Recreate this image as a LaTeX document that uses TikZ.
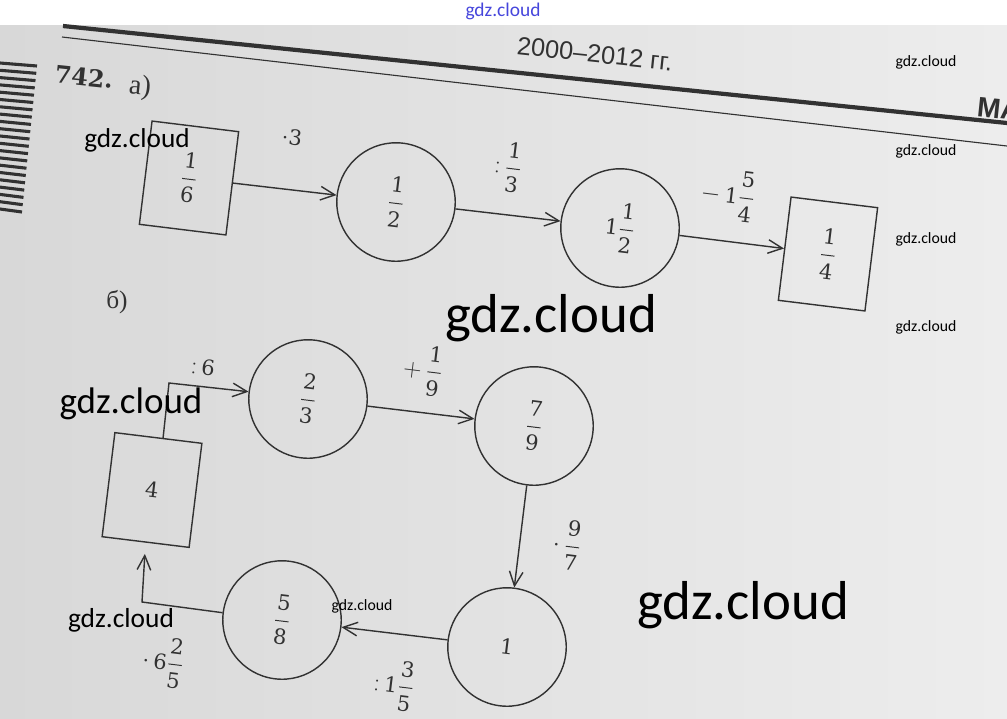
\RequirePackage{fix-cm}
\documentclass[tikz,border=0pt]{standalone}
\usepackage{amsmath}
\usepackage[no-math]{fontspec}
\newfontfamily\rusfont{Liberation Serif}
\newfontfamily\rushead{Liberation Sans}
\newfontfamily\wmfont{Carlito}
\newfontfamily\digfont{DejaVu Serif}
\newcommand\dg[1]{\text{\fontsize{15}{18}\selectfont\digfont #1}}
\newcommand\fr[2]{\dfrac{\dg{#1}}{\dg{#2}}}
\usetikzlibrary{arrows.meta}
\definecolor{ink}{RGB}{50,50,50}
\definecolor{paperL}{RGB}{216,216,216}
\definecolor{paperR}{RGB}{237,237,237}
\definecolor{wmblue}{RGB}{70,70,220}
\begin{document}
\begin{tikzpicture}[x=0.025cm,y=-0.025cm,line width=1pt,
  >={Straight Barb[length=3.6mm,width=3.4mm]},
  numbox/.style={draw=ink,rotate=-7,minimum width=2.18cm,minimum height=2.6cm,inner sep=0pt,text=ink,font=\fontsize{18}{22}\selectfont},
  numcirc/.style={draw=ink,circle,rotate=-7,minimum size=2.96cm,inner sep=0pt,text=ink,font=\fontsize{18}{22}\selectfont},
  oplabel/.style={rotate=-7,inner sep=0pt,text=ink,font=\fontsize{18}{22}\selectfont},
  flow/.style={draw=ink,->},
  wm/.style={inner sep=0pt,text=black}]
\useasboundingbox (0,0) rectangle (1007,718);
\clip (0,0) rectangle (1007,718);
\fill[white] (0,0) rectangle (1007,718);
\shade[left color=paperL,right color=paperR] (0,25) rectangle (1007,718);
\draw[ink,line width=3pt] (63,26) -- (1007,123);
\draw[ink,line width=0.8pt] (62,37) -- (1007,146);
\foreach \i in {0,...,20}
  \draw[ink,line width=2.2pt] (0,63+7.3*\i) -- ({37-0.75*\i},{66+7.3*\i});
\node[rotate=-6,text=ink,font=\digfont\bfseries\fontsize{17}{20}\selectfont] (num) at (84,77) {742.};
\node[rotate=-6,text=ink,font=\rusfont\fontsize{20}{24}\selectfont] (parta) at (140,88) {а)};
\node[rotate=-6,text=ink,font=\rushead\fontsize{18}{22}\selectfont] (years) at (595,54) {2000–2012 гг.};
\node[rotate=-6,anchor=west,text=ink,font=\rushead\bfseries\fontsize{20}{24}\selectfont] (ma) at (972,106) {МА};
\node[text=ink,font=\rusfont\fontsize{18}{22}\selectfont] (partb) at (117,302) {б)};

\node[numbox] (b1) at (189,178) {$\fr{1}{6}$};
\node[numcirc] (c1) at (396,202) {$\fr{1}{2}$};
\node[numcirc] (c2) at (620,228) {$\dg{1}\fr{1}{2}$};
\node[numbox] (b2) at (828,254) {$\fr{1}{4}$};
\draw[flow] (b1) -- (c1);
\draw[flow] (c1) -- (c2);
\draw[flow] (c2) -- (b2);
\node[oplabel] (l1) at (292,137) {$\cdot\dg{3}$};
\node[oplabel] (l2) at (508,167) {${:}\,\fr{1}{3}$};
\node[oplabel] (l3) at (728,195) {$-\,\dg{1}\fr{5}{4}$};

\node[numbox,minimum width=2.19cm,minimum height=2.62cm] (b4) at (152,490) {$\dg{4}$};
\node[numcirc] (c3) at (308,399) {$\fr{2}{3}$};
\node[numcirc] (c4) at (534,426) {$\fr{7}{9}$};
\node[numcirc] (c5) at (507,647) {$\dg{1}$};
\node[numcirc] (c6) at (282,620) {$\fr{5}{8}$};
\coordinate (k1) at (169,383);
\coordinate (k2) at (142,602);
\draw[flow] (b4.85) -- (k1) -- (c3.west);
\draw[flow] (c3) -- (c4);
\draw[flow] (c4) -- (c5);
\draw[flow] (c5) -- (c6);
\draw[flow,shorten >=0.28cm] (c6.west) -- (k2) -- (b4.south);
\node[oplabel] (l4) at (203,367) {${:}\,\dg{6}$};
\node[oplabel] (l5) at (423,370) {$+\,\fr{1}{9}$};
\node[oplabel] (l6) at (567,545) {$\cdot\,\fr{9}{7}$};
\node[oplabel] (l7) at (394,685) {${:}\,\dg{1}\fr{3}{5}$};
\node[oplabel] (l8) at (163,662) {$\cdot\,\dg{6}\fr{2}{5}$};

\node[wm,text=wmblue,font=\wmfont\fontsize{13.8}{16}\selectfont] (w0) at (503,11) {gdz.cloud};
\node[wm,font=\wmfont\fontsize{11.2}{13}\selectfont] (w1) at (926,62) {gdz.cloud};
\node[wm,font=\wmfont\fontsize{11.2}{13}\selectfont] (w2) at (926,151) {gdz.cloud};
\node[wm,font=\wmfont\fontsize{11.2}{13}\selectfont] (w3) at (926,239) {gdz.cloud};
\node[wm,font=\wmfont\fontsize{11.2}{13}\selectfont] (w4) at (926,327) {gdz.cloud};
\node[wm,font=\wmfont\fontsize{19.4}{22}\selectfont] (w5) at (137,140) {gdz.cloud};
\node[wm,font=\wmfont\fontsize{26.3}{30}\selectfont] (w6) at (131,404) {gdz.cloud};
\node[wm,font=\wmfont\fontsize{19.5}{22}\selectfont] (w7) at (121,620) {gdz.cloud};
\node[wm,font=\wmfont\fontsize{11.2}{13}\selectfont] (w8) at (362,606) {gdz.cloud};
\node[wm,font=\wmfont\fontsize{39}{44}\selectfont] (w9) at (551,318) {gdz.cloud};
\node[wm,font=\wmfont\fontsize{39}{44}\selectfont] (w10) at (743,605) {gdz.cloud};
\end{tikzpicture}
\end{document}
